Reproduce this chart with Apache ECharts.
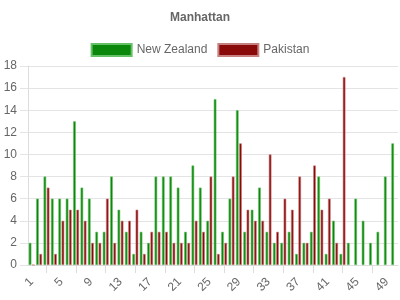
<!DOCTYPE html>
<html>
<head>
<meta charset="utf-8">
<script src="https://cdn.jsdelivr.net/npm/echarts@6/dist/echarts.min.js"></script>
<style>html,body{margin:0;padding:0;background:#fff}#c{width:400px;height:300px}</style>
</head>
<body>
<div id="c"></div>
<script>
const categories = Array.from({length: 50}, (_, i) => String(i + 1));
const newZealand = [2,6,8,6,6,6,13,7,6,3,3,8,5,3,1,3,2,8,8,8,7,3,9,7,4,15,3,6,14,3,5,7,3,2,2,3,1,2,3,8,1,4,1,2,6,4,2,3,8,11];
const pakistan = [0,1,7,1,4,5,5,4,2,2,6,2,4,4,5,1,3,3,3,2,2,2,4,3,8,1,2,8,11,5,4,4,10,3,6,5,8,2,9,5,6,2,17,null,null,null,null,null,null,null];
const yTicks = {min: 0, max: 18, interval: 2};

const chart = echarts.init(document.getElementById('c'), null, {renderer: 'canvas'});
const font = 'Liberation Sans, Arial, sans-serif';
chart.setOption({
  animation: false,
  title: {
    text: 'Manhattan', left: 'center', top: 7,
    textStyle: {fontSize: 12, fontWeight: 'bold', color: '#666', fontFamily: font}
  },
  legend: {
    top: 43, left: 'center', itemWidth: 40, itemHeight: 12, itemGap: 10, icon: 'rect',
    padding: 0,
    textStyle: {fontSize: 12, color: '#666', fontFamily: font},
    data: ['New Zealand', 'Pakistan']
  },
  grid: {left: 28, right: 2, top: 66, bottom: 35},
  xAxis: {
    type: 'category', data: categories,
    axisLine: {lineStyle: {color: '#ddd'}},
    axisTick: {show: true, alignWithLabel: true, length: 8, lineStyle: {color: '#ddd'},
      interval: (i) => i % 4 === 2},
    axisLabel: {interval: 3, rotate: 45, color: '#666', fontSize: 12, fontFamily: font, margin: 15},
    splitLine: {show: false}
  },
  yAxis: {
    type: 'value', min: yTicks.min, max: yTicks.max, interval: yTicks.interval,
    axisLine: {show: true, lineStyle: {color: '#ddd'}},
    axisTick: {show: true, length: 8, lineStyle: {color: '#e4e4e4'}},
    axisLabel: {color: '#666', fontSize: 12, fontFamily: font, margin: 11},
    splitLine: {lineStyle: {color: '#e4e4e4'}}
  },
  series: [
    {name: 'New Zealand', type: 'bar', data: newZealand, barWidth: 2.6, barGap: '25%',
      itemStyle: {color: '#0b880b', borderColor: '#66c066', borderWidth: 0.6}},
    {name: 'Pakistan', type: 'bar', data: pakistan, barWidth: 2.6,
      itemStyle: {color: '#8a0a0a', borderColor: '#c78080', borderWidth: 0.6}}
  ]
});
</script>
</body>
</html>
